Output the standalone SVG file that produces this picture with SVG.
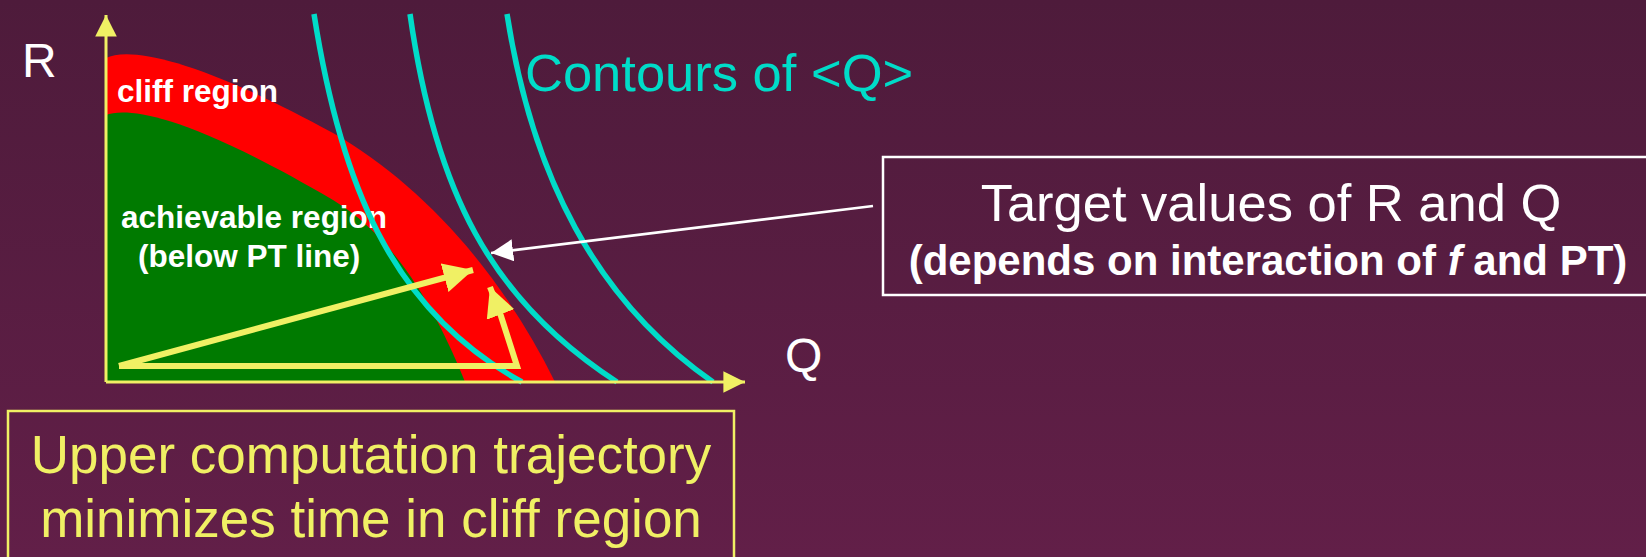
<svg xmlns="http://www.w3.org/2000/svg" width="1646" height="557" viewBox="0 0 1646 557">
<defs>
<linearGradient id="bg" x1="0" y1="0" x2="0" y2="1">
<stop offset="0" stop-color="#4e1b3b"/>
<stop offset="1" stop-color="#621f48"/>
</linearGradient>
<marker id="yhead" viewBox="0 0 10 10" refX="10" refY="5" markerWidth="7.2" markerHeight="7.2" markerUnits="strokeWidth" orient="auto">
<path d="M0,0 L10,5 L0,10 Z" fill="#f0f064"/>
</marker>
<marker id="ahead" viewBox="0 0 10 10" refX="10" refY="5" markerWidth="4.9" markerHeight="4.9" markerUnits="strokeWidth" orient="auto">
<path d="M0,0 L10,5 L0,10 Z" fill="#f0f064"/>
</marker>
<marker id="whead" viewBox="0 0 10 10" refX="10" refY="5" markerWidth="8.5" markerHeight="8.5" markerUnits="strokeWidth" orient="auto">
<path d="M0,0 L10,5 L0,10 Z" fill="#ffffff"/>
</marker>
</defs>
<style>
.sans{font-family:"Liberation Sans",Arial,sans-serif}
.white{fill:#ffffff}
.yel{fill:#f0f064}
.bold{font-weight:bold}
.contour{fill:none;stroke:#00dcc8;stroke-width:5.5}
.traj{fill:none;stroke:#f0f064;stroke-width:6}
.axis{fill:none;stroke:#f0f064;stroke-width:3}
</style>
<rect x="0" y="0" width="1646" height="557" fill="url(#bg)"/>

<g id="regions">
<path id="cliff" d="M106,382 V58 C130,46 200,60 333,133 C420,183 500,270 555,382 Z" fill="#ff0000"/>
<path id="achievable" d="M106,382 V115 C125,108 180,110 333,200 C400,240 440,320 465,382 Z" fill="#007a00"/>
</g>

<g id="labels-regions" class="sans bold white">
<text x="117" y="102" font-size="31.5">cliff region</text>
<text x="121" y="228" font-size="31.5">achievable region</text>
<text x="138" y="267" font-size="31.5">(below PT line)</text>
</g>

<g id="contours">
<path class="contour" d="M314,14 C340,180 390,310 522,382"/>
<path class="contour" d="M410,14 C435,190 490,300 617,382"/>
<path class="contour" d="M507,14 C532,175 595,300 713,382"/>
</g>

<g id="axes">
<path class="axis" d="M106,382 V15" marker-end="url(#yhead)"/>
<path class="axis" d="M106,382 H745" marker-end="url(#yhead)"/>
<text class="sans white" x="22" y="77" font-size="48">R</text>
<text class="sans white" x="785" y="372" font-size="48">Q</text>
</g>

<g id="connectors">
<path class="traj" d="M119,366 H517 L500,313"/>
<path class="traj" d="M500,313 L490,287" marker-end="url(#ahead)"/>
<path class="traj" d="M119,366 L473,270" marker-end="url(#ahead)"/>
<path d="M873,206 L491,253" fill="none" stroke="#ffffff" stroke-width="2.6" marker-end="url(#whead)"/>
</g>

<g id="contours-label">
<text class="sans" x="525" y="91" font-size="52.5" fill="#00dcc8">Contours of &lt;Q&gt;</text>
</g>

<g id="target-box">
<rect x="883" y="157" width="770" height="138" fill="none" stroke="#ffffff" stroke-width="2.5"/>
<text class="sans white" x="1271" y="221" font-size="52.5" text-anchor="middle">Target values of R and Q</text>
<text class="sans white bold" x="1268" y="275" font-size="42" text-anchor="middle">(depends on interaction of <tspan font-style="italic">f</tspan> and PT)</text>
</g>

<g id="note-box">
<rect x="8" y="411" width="726" height="170" fill="none" stroke="#f0f064" stroke-width="2.5"/>
<text class="sans yel" x="371" y="473" font-size="53" text-anchor="middle">Upper computation trajectory</text>
<text class="sans yel" x="371" y="537" font-size="53" text-anchor="middle">minimizes time in cliff region</text>
</g>
</svg>
